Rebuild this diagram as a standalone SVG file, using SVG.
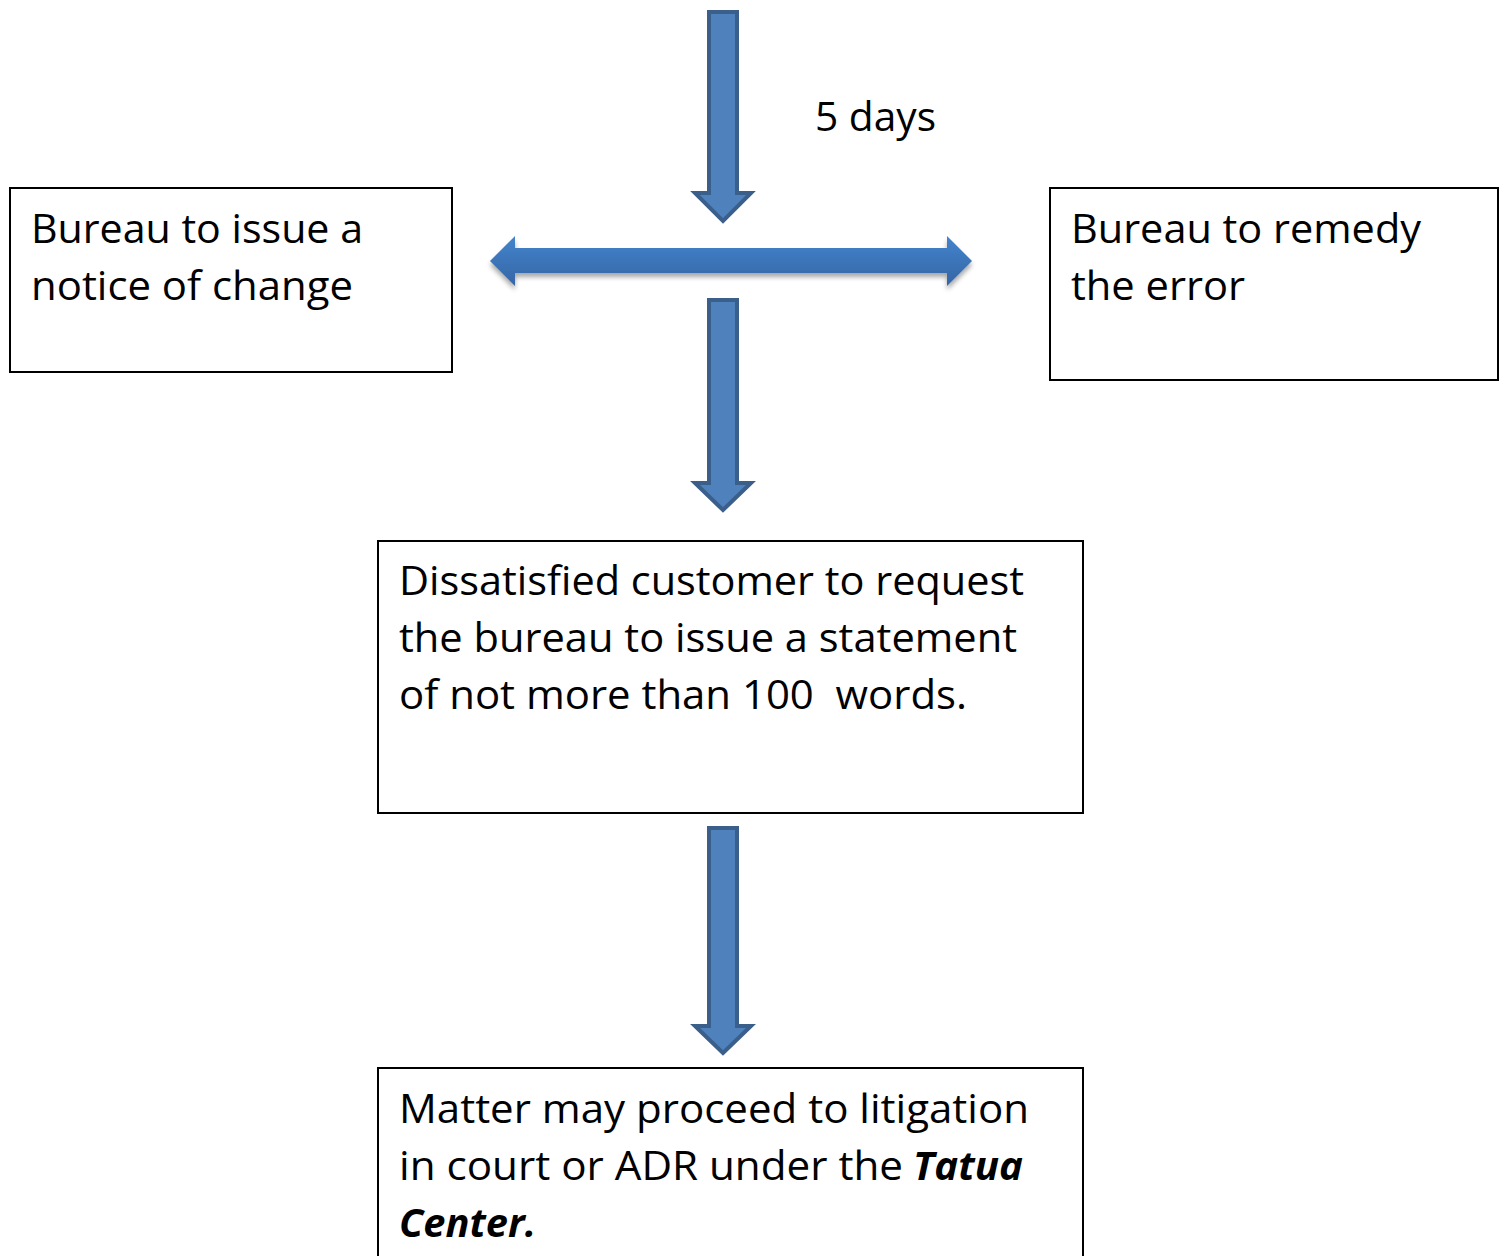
<svg xmlns="http://www.w3.org/2000/svg" width="1499" height="1256" viewBox="0 0 1499 1256">
<style>
.box{fill:#fff;stroke:#000;stroke-width:2}
.t{font-family:"Open Sans","Noto Sans",sans-serif;font-size:40px;fill:#000}
.bi{font-weight:bold;font-style:italic}
.va{fill:#4F81BD;stroke:#3A5F8B;stroke-width:4;stroke-linejoin:miter}
</style>
<defs>
<linearGradient id="hg" x1="0" y1="0" x2="0" y2="1">
<stop offset="0" stop-color="#4384CC"/>
<stop offset="1" stop-color="#3565A6"/>
</linearGradient>
<filter id="sh" x="-5%" y="-50%" width="110%" height="200%">
<feGaussianBlur in="SourceAlpha" stdDeviation="2.5"/>
<feOffset dx="0" dy="4" result="b"/>
<feComponentTransfer><feFuncA type="linear" slope="0.35"/></feComponentTransfer>
<feMerge><feMergeNode/><feMergeNode in="SourceGraphic"/></feMerge>
</filter>
</defs>
<g id="connectors">
<polygon class="va" points="709,12 737,12 737,193 751,193 723,221 695,193 709,193"/>
<polygon fill="url(#hg)" filter="url(#sh)" points="490,261 515,236 515,248 947,248 947,236 972,261 947,286 947,273 515,273 515,286"/>
<polygon class="va" points="709,300 737,300 737,483 751,483 723,510 695,483 709,483"/>
<polygon class="va" points="709,828 737,828 737,1026 751,1026 723,1053 695,1026 709,1026"/>
<text class="t" x="815" y="131" textLength="121" lengthAdjust="spacingAndGlyphs">5 days</text>
</g>
<g id="node-notice">
<rect class="box" x="10" y="188" width="442" height="184"/>
<text class="t" x="31" y="243" textLength="332" lengthAdjust="spacingAndGlyphs">Bureau to issue a</text>
<text class="t" x="31" y="300" textLength="322" lengthAdjust="spacingAndGlyphs">notice of change</text>
</g>
<g id="node-remedy">
<rect class="box" x="1050" y="188" width="448" height="192"/>
<text class="t" x="1071" y="243" textLength="350" lengthAdjust="spacingAndGlyphs">Bureau to remedy</text>
<text class="t" x="1071" y="300" textLength="174" lengthAdjust="spacingAndGlyphs">the error</text>
</g>
<g id="node-dissatisfied">
<rect class="box" x="378" y="541" width="705" height="272"/>
<text class="t" x="399" y="595" textLength="625" lengthAdjust="spacingAndGlyphs">Dissatisfied customer to request</text>
<text class="t" x="399" y="652" textLength="618" lengthAdjust="spacingAndGlyphs">the bureau to issue a statement</text>
<text class="t" x="399" y="709" textLength="568" lengthAdjust="spacingAndGlyphs" xml:space="preserve">of not more than 100  words.</text>
</g>
<g id="node-litigation">
<rect class="box" x="378" y="1068" width="705" height="200"/>
<text class="t" x="399" y="1123" textLength="630" lengthAdjust="spacingAndGlyphs">Matter may proceed to litigation</text>
<text class="t" x="399" y="1180" textLength="504" lengthAdjust="spacingAndGlyphs">in court or ADR under the</text>
<text class="t bi" x="913" y="1180" textLength="110" lengthAdjust="spacingAndGlyphs">Tatua</text>
<text class="t bi" x="399" y="1237" textLength="137" lengthAdjust="spacingAndGlyphs">Center.</text>
</g>
</svg>
